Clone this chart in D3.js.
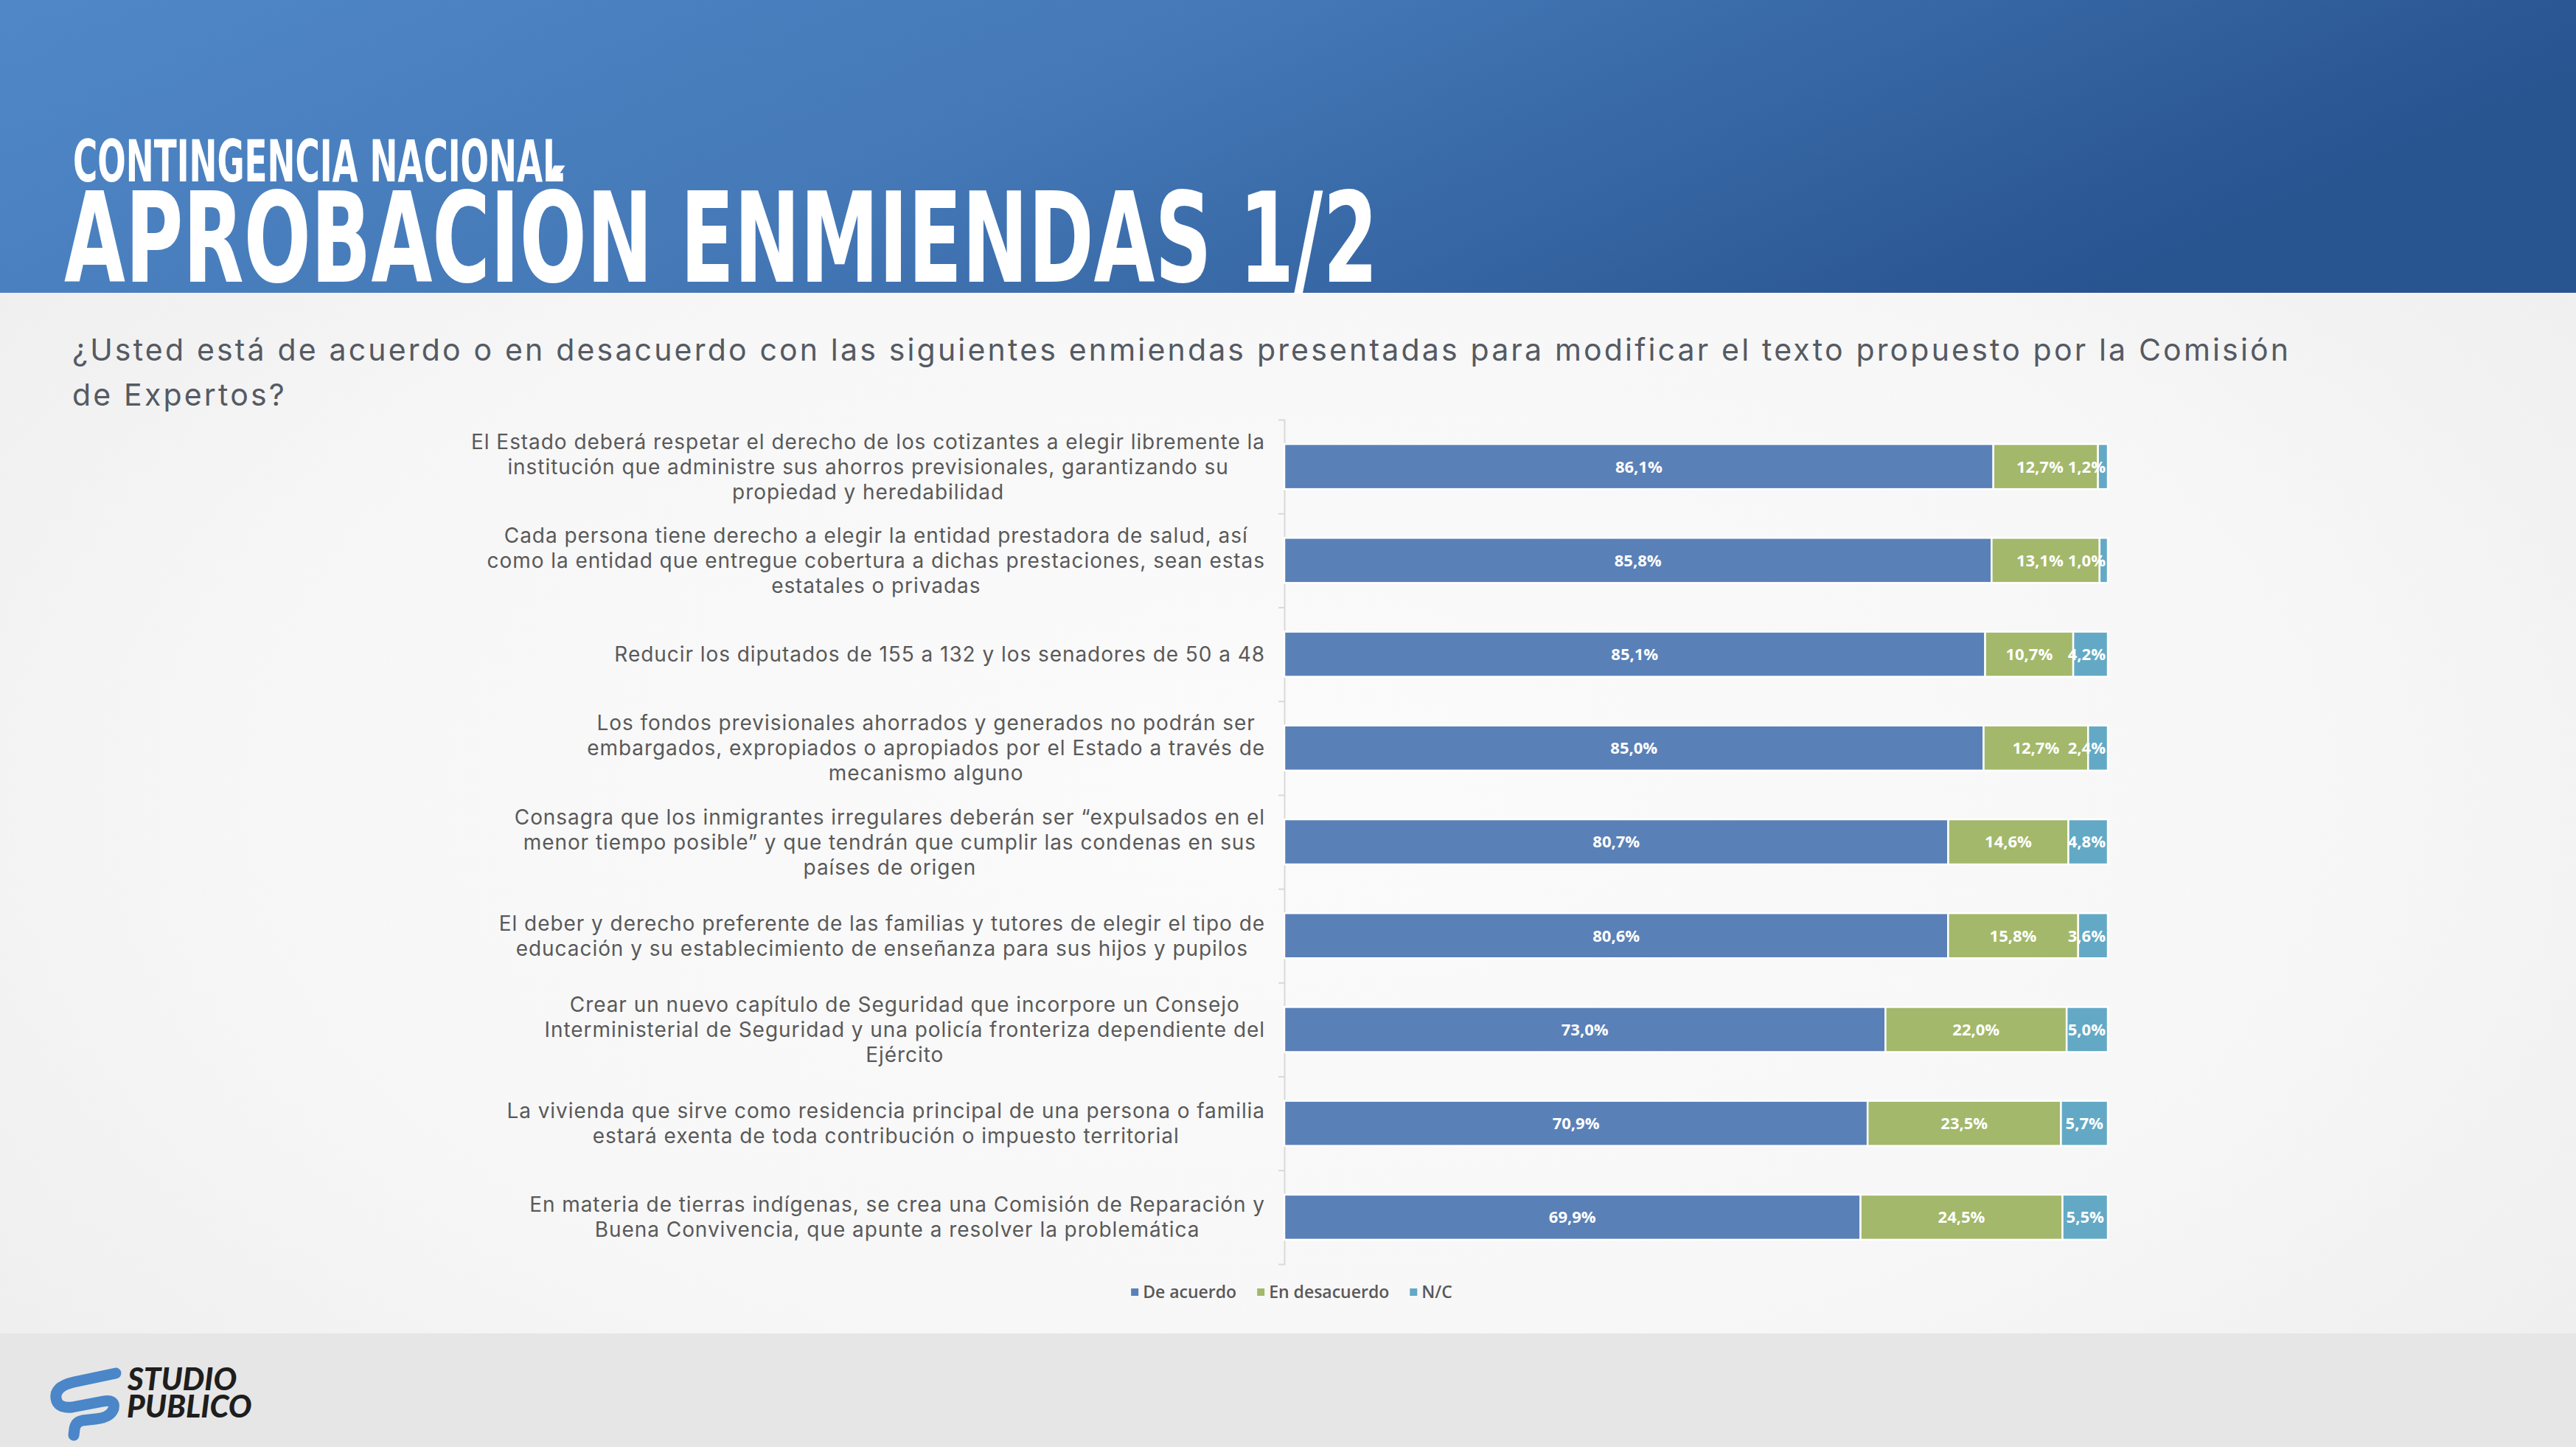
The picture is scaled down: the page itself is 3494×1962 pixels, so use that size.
<html>
<head>
<meta charset="utf-8">
<script src="https://d3js.org/d3.v7.min.js"></script>
<style>
  body { margin: 0; background: #f3f3f3; }
  svg { display: block; }
</style>
</head>
<body>
<script type="text/javascript">

// ---- data ----
var seriesNames = ["De acuerdo", "En desacuerdo", "N/C"];
var seriesKeys = ["acuerdo", "desacuerdo", "nc"];
var seriesColors = ["#5a80b8", "#a3b86a", "#63a9c5"];

// each enmienda, already split in the lines shown on the slide
var categories = [
  ["El Estado deberá respetar el derecho de los cotizantes a elegir libremente la",
   "institución que administre sus ahorros previsionales, garantizando su",
   "propiedad y heredabilidad"],
  ["Cada persona tiene derecho a elegir la entidad prestadora de salud, así",
   "como la entidad que entregue cobertura a dichas prestaciones, sean estas",
   "estatales o privadas"],
  ["Reducir los diputados de 155 a 132 y los senadores de 50 a 48"],
  ["Los fondos previsionales ahorrados y generados no podrán ser",
   "embargados, expropiados o apropiados por el Estado a través de",
   "mecanismo alguno"],
  ["Consagra que los inmigrantes irregulares deberán ser “expulsados en el",
   "menor tiempo posible” y que tendrán que cumplir las condenas en sus",
   "países de origen"],
  ["El deber y derecho preferente de las familias y tutores de elegir el tipo de",
   "educación y su establecimiento de enseñanza para sus hijos y pupilos"],
  ["Crear un nuevo capítulo de Seguridad que incorpore un Consejo",
   "Interministerial de Seguridad y una policía fronteriza dependiente del",
   "Ejército"],
  ["La vivienda que sirve como residencia principal de una persona o familia",
   "estará exenta de toda contribución o impuesto territorial"],
  ["En materia de tierras indígenas, se crea una Comisión de Reparación y",
   "Buena Convivencia, que apunte a resolver la problemática"]
];

var deAcuerdo    = [86.1, 85.8, 85.1, 85.0, 80.7, 80.6, 73.0, 70.9, 69.9];
var enDesacuerdo = [12.7, 13.1, 10.7, 12.7, 14.6, 15.8, 22.0, 23.5, 24.5];
var noContesta   = [1.2, 1.0, 4.2, 2.4, 4.8, 3.6, 5.0, 5.7, 5.5];

var rows = categories.map(function(c, i) {
  return { idx: i, lines: c, acuerdo: deAcuerdo[i], desacuerdo: enDesacuerdo[i], nc: noContesta[i] };
});

var W = 3494, H = 1962;
var fmt = function(v) { return v.toFixed(1).replace(".", ",") + "%"; };

var svg = d3.select("body").append("svg")
  .attr("width", W)
  .attr("height", H);

var defs = svg.append("defs");

var hg = defs.append("linearGradient").attr("id", "headGrad")
  .attr("x1", "0").attr("y1", "0").attr("x2", "1").attr("y2", "0.25");
hg.append("stop").attr("offset", "0").attr("stop-color", "#5088c7");
hg.append("stop").attr("offset", "0.45").attr("stop-color", "#4579b8");
hg.append("stop").attr("offset", "1").attr("stop-color", "#285490");

var bg = defs.append("radialGradient").attr("id", "bgGrad")
  .attr("cx", "0.5").attr("cy", "0.55").attr("r", "0.65");
bg.append("stop").attr("offset", "0").attr("stop-color", "#fbfbfb");
bg.append("stop").attr("offset", "0.6").attr("stop-color", "#f7f7f7");
bg.append("stop").attr("offset", "1").attr("stop-color", "#eeeeee");

// background, header band, footer band
svg.append("rect").attr("width", W).attr("height", H).attr("fill", "url(#bgGrad)");
svg.append("rect").attr("width", W).attr("height", 397).attr("fill", "url(#headGrad)");
svg.append("rect").attr("y", 1808).attr("width", W).attr("height", H - 1808).attr("fill", "#e6e6e6");

// titles
svg.append("text")
  .attr("x", 99).attr("y", 246)
  .attr("font-family", "'Liberation Sans Narrow', 'DejaVu Sans Condensed', sans-serif")
  .attr("font-weight", 700)
  .attr("font-size", 78)
  .attr("fill", "#ffffff")
  .attr("textLength", 666).attr("lengthAdjust", "spacingAndGlyphs")
  .text("CONTINGENCIA NACIONAL");

svg.append("text")
  .attr("x", 87).attr("y", 382)
  .attr("font-family", "'Liberation Sans Narrow', 'DejaVu Sans Condensed', sans-serif")
  .attr("font-weight", 700)
  .attr("font-size", 169)
  .attr("fill", "#ffffff")
  .attr("textLength", 1782).attr("lengthAdjust", "spacingAndGlyphs")
  .text("APROBACIÓN ENMIENDAS 1/2");

// question, spaced out to the width it has on the slide
var question = ["¿Usted está de acuerdo o en desacuerdo con las siguientes enmiendas presentadas para modificar el texto propuesto por la Comisión",
                "de Expertos?"];
var qText = svg.append("g")
  .attr("font-family", "Inter, 'Open Sans', sans-serif")
  .attr("font-size", 41)
  .attr("fill", "#555a63")
  .selectAll("text").data(question).enter().append("text")
  .attr("x", 98)
  .attr("y", function(d, i) { return 489 + i * 61; })
  .text(function(d) { return d; });
var qW = qText.nodes()[0].getComputedTextLength();
qText.attr("letter-spacing", (3006 - qW) / (question[0].length - 1));

// ---- chart ----
var x = d3.scaleLinear().domain([0, 1]).range([1742, 2859]);
var y = d3.scaleBand().domain(d3.range(categories.length))
  .range([569, 1714]).paddingInner(0.52).paddingOuter(0.26);
var yEdge = d3.scaleLinear().domain([0, categories.length]).range([569, 1714]);

var stack = d3.stack().keys(seriesKeys).offset(d3.stackOffsetExpand);
var stacked = stack(rows);

// axis with ticks between categories
svg.append("g")
  .attr("transform", "translate(" + x(0) + ",0)")
  .call(d3.axisLeft(yEdge).tickValues(d3.range(1, categories.length)).tickSize(8).tickSizeOuter(8).tickFormat(""))
  .call(function(g) {
    g.selectAll("path, line").attr("stroke", "#d9d9d9").attr("stroke-width", 2);
  });

var layers = svg.append("g").selectAll("g.layer").data(stacked).enter().append("g")
  .attr("class", "layer")
  .attr("fill", function(d, i) { return seriesColors[i]; });

layers.selectAll("rect").data(function(d) { return d; }).enter().append("rect")
  .attr("x", function(d) { return x(d[0]); })
  .attr("y", function(d) { return y(d.data.idx); })
  .attr("width", function(d) { return x(d[1]) - x(d[0]); })
  .attr("height", y.bandwidth())
  .attr("stroke", "#ffffff")
  .attr("stroke-width", 2.5);

// value labels, centred in each segment, kept inside the plot
var labelG = svg.append("g")
  .attr("font-family", "'Open Sans', sans-serif")
  .attr("font-weight", 700)
  .attr("font-size", 22)
  .attr("fill", "#ffffff")
  .attr("text-anchor", "middle");

var rightLimit = x(1) - 3;
rows.forEach(function(r) {
  var placed = [];
  stacked.forEach(function(layer, k) {
    var seg = layer[r.idx];
    var t = labelG.append("text")
      .attr("y", y(r.idx) + y.bandwidth() / 2)
      .attr("dy", "0.36em")
      .text(fmt(r[seriesKeys[k]]));
    var w = t.node().getComputedTextLength();
    var cx = (x(seg[0]) + x(seg[1])) / 2;
    if (cx + w / 2 > rightLimit) cx = rightLimit - w / 2;
    placed.push({ t: t, cx: cx, w: w });
  });
  // push a label left when the next one crowds it
  for (var k = placed.length - 2; k >= 0; k--) {
    var a = placed[k], b = placed[k + 1];
    var over = (a.cx + a.w / 2 + 6) - (b.cx - b.w / 2);
    if (over > 0 && k > 0) a.cx -= over;
  }
  placed.forEach(function(p) { p.t.attr("x", p.cx); });
});

// category labels: wrapped block, lines centred, block right aligned to the axis
var catG = svg.append("g")
  .attr("font-family", "Inter, 'Open Sans', sans-serif")
  .attr("font-size", 28)
  .attr("fill", "#595959")
  .attr("text-anchor", "middle");

var lineH = 34;
var catTexts = rows.map(function(r) {
  var cy = y(r.idx) + y.bandwidth() / 2;
  var n = r.lines.length;
  return r.lines.map(function(l, i) {
    return catG.append("text")
      .attr("y", cy + (i - (n - 1) / 2) * lineH)
      .attr("dy", "0.36em")
      .text(l);
  });
});
// widen a little so the first line spans what it does on the slide
var firstW = catTexts[0][0].node().getComputedTextLength();
catG.attr("letter-spacing", Math.max(0, (1076 - firstW) / (rows[0].lines[0].length - 1)));
catTexts.forEach(function(texts) {
  var maxW = d3.max(texts, function(t) { return t.node().getComputedTextLength(); });
  var right = x(0) - 26;
  texts.forEach(function(t) { t.attr("x", right - maxW / 2); });
});

// legend
var legend = svg.append("g")
  .attr("font-family", "'Open Sans', sans-serif")
  .attr("font-weight", 600)
  .attr("font-size", 23)
  .attr("fill", "#595959");

var lx = 0, items = [];
seriesNames.forEach(function(name, i) {
  var g = legend.append("g");
  g.append("rect").attr("x", 0).attr("y", -5).attr("width", 10).attr("height", 10).attr("fill", seriesColors[i]);
  var t = g.append("text").attr("x", 16).attr("dy", "0.36em").text(name);
  var w = 16 + t.node().getComputedTextLength();
  items.push({ g: g, x: lx });
  lx += w + 28;
});
var legendW = lx - 28;
var legendX = 1752 - legendW / 2;
items.forEach(function(it) { it.g.attr("transform", "translate(" + (legendX + it.x) + ",1752)"); });

// logo
var logo = svg.append("g");
logo.append("path")
  .attr("d", "M157,1862 L100,1874 Q74,1880 76,1896 Q78,1910 98,1908 L140,1900 Q157,1897 154,1910 Q150,1922 130,1924 L112,1926 Q102,1928 101,1938 L100,1946")
  .attr("fill", "none")
  .attr("stroke", "#4a86c8")
  .attr("stroke-width", 15)
  .attr("stroke-linecap", "round")
  .attr("stroke-linejoin", "round");
logo.append("text")
  .attr("x", 173).attr("y", 1885)
  .attr("font-family", "Lato, sans-serif")
  .attr("font-weight", 900)
  .attr("font-style", "italic")
  .attr("font-size", 42)
  .attr("fill", "#1e1e1e")
  .selectAll("tspan").data(["STUDIO", "PUBLICO"]).enter().append("tspan")
  .attr("x", function(d, i) { return 173 - i; })
  .attr("dy", function(d, i) { return i ? 37 : 0; })
  .text(function(d) { return d; });

</script>
</body>
</html>
